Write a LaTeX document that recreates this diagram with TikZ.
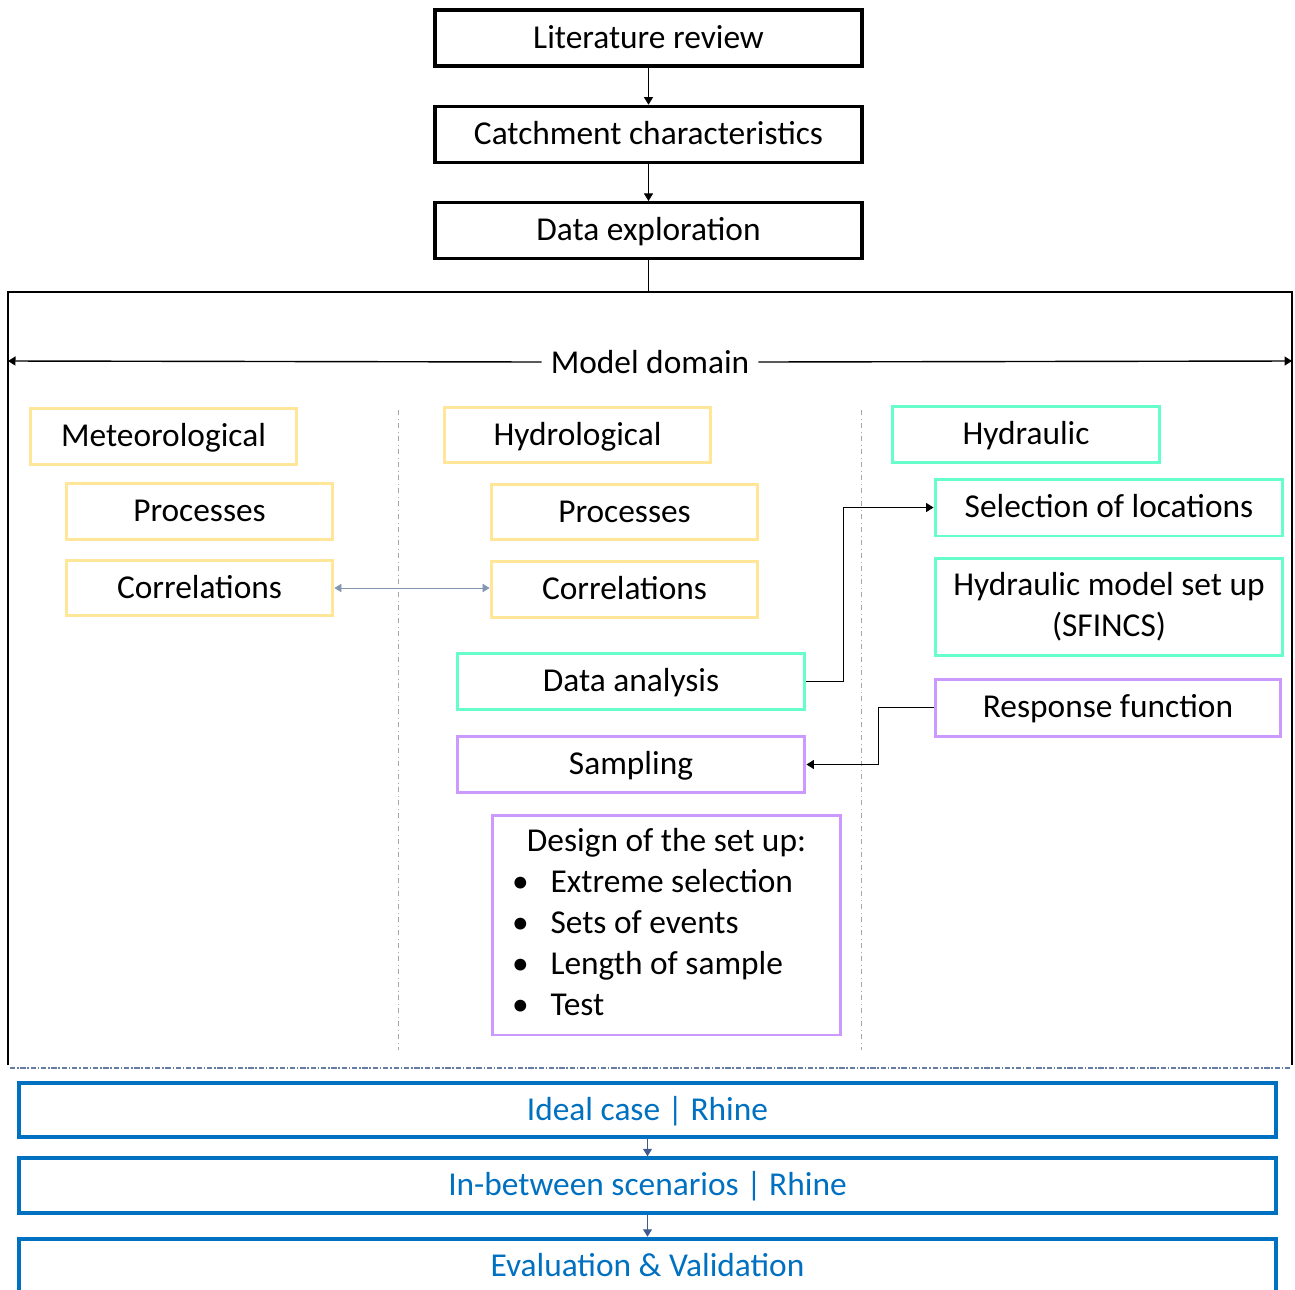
\documentclass[tikz,border=0pt]{standalone}
\usepackage{fontspec}
\setmainfont{Carlito}
\usepackage{tikz}
\usetikzlibrary{positioning,shapes,calc,arrows.meta}
\usepackage{xcolor}
\usepackage{array}

\definecolor{metyellow}{HTML}{FFE699}
\definecolor{hydgreen}{HTML}{66FFCC}
\definecolor{samppurple}{HTML}{CC99FF}
\definecolor{caseblue}{HTML}{0070C0}
\definecolor{linkgray}{HTML}{8497B0}
\definecolor{casearrow}{HTML}{3F5B8E}
\newcommand{\boxfont}{\fontsize{19}{23.3}\selectfont}

\begin{document}
\begin{tikzpicture}[
    x=0.02cm, y=-0.02cm, % one unit = one pixel of the sketch
    node distance=7.4mm and 10mm, % Vertical and horizontal distances
    block/.style={rectangle, draw, inner sep=0pt, text centered, font=\boxfont, line width=1.7pt,
        text height=14pt, text depth=2.6pt},
    topblock/.style={block, line width=1.9pt, minimum width=8.54cm, minimum height=1.12cm},
    yellowblock/.style={block, draw=metyellow, minimum width=5.34cm, minimum height=1.11cm},
    greenblock/.style={block, draw=hydgreen, minimum width=6.96cm, minimum height=1.12cm},
    purpleblock/.style={block, draw=samppurple, minimum width=6.96cm, minimum height=1.12cm},
    caseblock/.style={block, draw=caseblue, text=caseblue, line width=2.3pt, minimum width=25.14cm, minimum height=1.09cm},
    arrow/.style={draw, -{Triangle[length=1.5mm, width=1.8mm]}},
    frameline/.style={draw, line width=0.8pt},
    separator/.style={draw=gray!70, dash dot, line width=0.5pt}
]
    \useasboundingbox (0,0) rectangle (1295,1289);

    % Top chain
    \node (lit) [topblock] at (648.5,38) {Literature review};
    \node (catch) [topblock, below=of lit] {Catchment characteristics};
    \node (explo) [topblock, below=of catch] {Data exploration};

    % Model domain frame
    \coordinate (frametop) at (651,292);
    \draw [frameline] (8,1065) -- (8,292) -- (1292,292) -- (1292,1065);
    \draw [draw=casearrow!80, line width=0.9pt, densely dash dot] (10,1068) -- (1292,1068);
    \node (domain) [font=\boxfont, inner ysep=0pt, inner xsep=5pt] at (650,362) {Model domain};
    \coordinate (dleft) at (8,361);
    \coordinate (dright) at (1292,361);
    \draw [separator] (398,410) -- (398,1050);
    \draw [separator] (861,410) -- (861,1050);

    % Meteorological
    \node (met) [yellowblock] at (163.5,436.5) {Meteorological};
    \node (metproc) [yellowblock] at (199.5,511.5) {Processes};
    \node (metcorr) [yellowblock] at (199.5,588) {Correlations};

    % Hydrological
    \node (hyd) [yellowblock] at (577.5,435) {Hydrological};
    \node (hydproc) [yellowblock] at (624.5,512) {Processes};
    \node (hydcorr) [yellowblock] at (624.5,589.5) {Correlations};
    \node (analysis) [greenblock] at (631,681.5) {Data analysis};
    \node (sampling) [purpleblock] at (631,764.5) {Sampling};
    \node (design) [purpleblock, text height=, text depth=, minimum height=4.4cm] at (666.5,925) {%
        \begin{tabular}{@{\hspace{3.9mm}}p{0.77cm}@{}p{5.8cm}@{}}
        \multicolumn{2}{@{}c@{}}{Design of the set up:}\\
        \textbullet & Extreme selection\\
        \textbullet & Sets of events\\
        \textbullet & Length of sample\\
        \textbullet & Test
        \end{tabular}};

    % Hydraulic
    \node (hydraulic) [greenblock, minimum width=5.36cm] at (1026,434.5) {Hydraulic};
    \node (selection) [greenblock, minimum height=1.14cm] at (1109,507.5) {Selection of locations};
    \node (setup) [greenblock, text height=, text depth=, minimum height=1.94cm, align=center] at (1109,607) {Hydraulic model set up\\(SFINCS)};
    \node (response) [purpleblock, minimum width=6.92cm, minimum height=1.14cm] at (1108,707.5) {Response function};

    % Cases
    \node (ideal) [caseblock] at (647.5,1110) {Ideal case | Rhine};
    \node (between) [caseblock] at (647.5,1185.5) {In-between scenarios | Rhine};
    \node (evaluation) [caseblock] at (647.5,1266) {Evaluation \& Validation};

    % Connections
    \path [arrow] (lit) -- (catch);
    \path [arrow] (catch) -- (explo);
    \draw [line width=0.8pt] (explo.south) -- (explo.south |- frametop);
    \path [arrow, line width=0.8pt] (domain.west) -- (dleft);
    \path [arrow, line width=0.8pt] (domain.east) -- (dright);
    \path [arrow, draw=linkgray, {Triangle[length=1.4mm, width=1.7mm]}-{Triangle[length=1.4mm, width=1.7mm]}]
        (metcorr.east) -- (metcorr.east -| hydcorr.west);
    \path [arrow, line width=0.8pt] (analysis.east) -- ++(37,0) |- (selection.west);
    \path [arrow, line width=0.8pt] (response.west) -- ++(-55,0) |- (sampling.east);
    \path [arrow, draw=casearrow, line width=0.6pt] (ideal) -- (between);
    \path [arrow, draw=casearrow, line width=0.6pt] (between) -- (evaluation);

\end{tikzpicture}
\end{document}
